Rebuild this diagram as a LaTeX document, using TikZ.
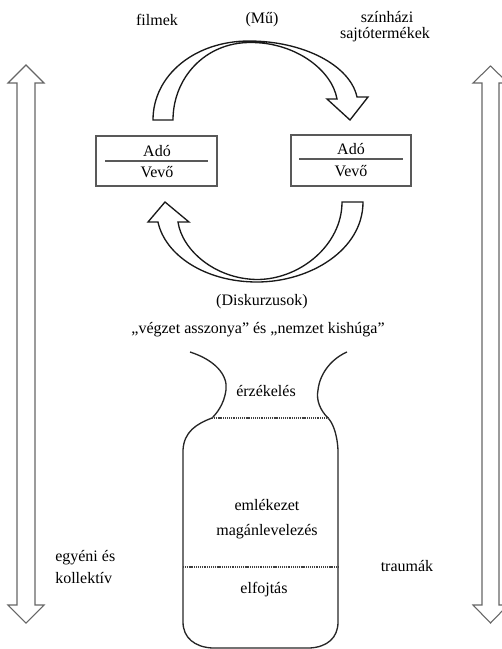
\documentclass[tikz,border=0pt]{standalone}
\usepackage{fontspec}
\setmainfont{Liberation Serif}
\begin{document}
\begin{tikzpicture}[x=0.75pt,y=-0.75pt,
  txt/.style={font=\fontsize{12}{14}\selectfont, inner sep=0pt, text=black},
  dbl/.style={draw=black!60, line width=0.8pt, fill=white},
  curv/.style={draw=black!90, line width=1pt, fill=white},
  box/.style={draw=black!65, line width=0.8pt},
  jar/.style={draw=black!85, line width=1pt},
  dots/.style={draw=black!75, line width=0.8pt, dash pattern=on 0.8pt off 0.6pt}]
\useasboundingbox (0,0) rectangle (502,649);
% vertical double arrows
\draw[dbl] (26,65) -- (44,83) -- (35,83) -- (35,605) -- (44,605) -- (26,623) -- (8,605) -- (17,605) -- (17,83) -- (8,83) -- cycle;
\draw[dbl] (490.5,66) -- (508,83) -- (499,83) -- (499,605) -- (508,605) -- (490.5,623) -- (473,605) -- (482,605) -- (482,83) -- (473,83) -- cycle;
% top curved arrow
\draw[curv] (153,120) .. controls (153,75) and (195,41) .. (249,41) .. controls (303,41) and (350,65) .. (357,97)
  -- (368,97) -- (350,120) -- (327,99) -- (337,99)
  .. controls (332,70) and (295,42) .. (250,42.5) .. controls (205,42.5) and (173,78) .. (173,120) -- cycle;
% bottom curved arrow
\draw[curv] (363,202) .. controls (363,250) and (310,282) .. (257,282) .. controls (205,282) and (165,255) .. (158,222)
  -- (148,222) -- (165,202) -- (189,222) -- (178,222)
  .. controls (182,250) and (215,279) .. (257,279.5) .. controls (300,279.5) and (342,245) .. (342,202) -- cycle;
% boxes
\draw[box] (96,136) rectangle (217,186);
\draw[box] (105,161) -- (208,161);
\draw[box] (291,135) rectangle (411,186);
\draw[box] (299,159) -- (403,159);
\node[txt] (a1) at (157,151) {Adó};
\node[txt] (v1) at (157,172) {Vevő};
\node[txt] (a2) at (351,149) {Adó};
\node[txt] (v2) at (351,171) {Vevő};
% top labels
\node[txt] (filmek) at (157,20) {filmek};
\node[txt] (mu) at (262,20) {(Mű)};
\node[txt] (szin) at (387,17) {színházi};
\node[txt] (sajto) at (385,35) {sajtótermékek};
\node[txt] (disk) at (262,302) {(Diskurzusok)};
\node[txt] (quote) at (258,330) {„végzet asszonya” és „nemzet kishúga”};
% jar
\draw[jar] (190,352) .. controls (215,360) and (228,375) .. (226,390) .. controls (224,405) and (216,414) .. (212,418)
  .. controls (196,424) and (184,432) .. (183,450) -- (183,622) .. controls (183,638) and (195,647) .. (212,648)
  -- (310,648) .. controls (327,647) and (338,638) .. (338,622) -- (338,450)
  .. controls (337,432) and (332,422) .. (328,418) .. controls (320,410) and (316,400) .. (318,390)
  .. controls (320,372) and (333,358) .. (347,352);
\draw[dots] (212,418) -- (328,418);
\draw[dots] (183,567) -- (338,567);
\node[txt] (erz) at (266,391) {érzékelés};
\node[txt] (eml) at (267,505) {emlékezet};
\node[txt] (mag) at (267,532) {magánlevelezés};
\node[txt] (elf) at (264,590) {elfojtás};
% side labels
\node[txt, anchor=west] (egy) at (55,558) {egyéni és};
\node[txt, anchor=west] (kol) at (55,578) {kollektív};
\node[txt] (tra) at (407,566) {traumák};
\end{tikzpicture}
\end{document}
